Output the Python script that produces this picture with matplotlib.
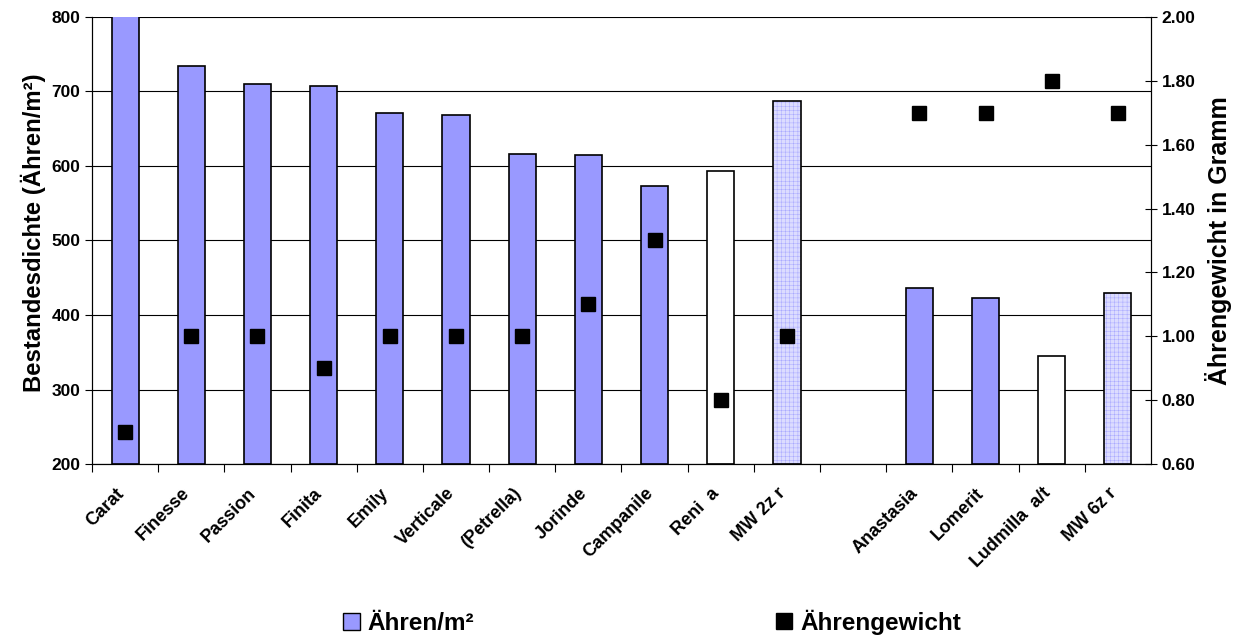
import numpy as np
import matplotlib
matplotlib.use("Agg")
import matplotlib.pyplot as plt
import matplotlib.transforms as mtransforms
from matplotlib.patches import Patch
from matplotlib.lines import Line2D

plt.rcParams["font.family"] = ["Liberation Sans", "DejaVu Sans"]
plt.rcParams["font.weight"] = "bold"
plt.rcParams["hatch.linewidth"] = 0.3

# slot 11 is an empty gap between the two groups
SORTEN = ["Carat", "Finesse", "Passion", "Finita", "Emily", "Verticale",
          "(Petrella)", "Jorinde", "Campanile", "Reni  a", "MW 2z r", "",
          "Anastasia", "Lomerit", "Ludmilla  a/t", "MW 6z r"]
AEHREN_M2 = [830, 734, 710, 707, 671, 668, 616, 615, 573, 593, 687, np.nan,
             436, 423, 345, 430]
AEHRENGEWICHT = [0.70, 1.00, 1.00, 0.90, 1.00, 1.00, 1.00, 1.10, 1.30, 0.80,
                 1.00, np.nan, 1.70, 1.70, 1.80, 1.70]
# bar style: n = normal, w = white, m = mean (hatched)
ART = ["n", "n", "n", "n", "n", "n", "n", "n", "n", "w", "m", "",
       "n", "n", "w", "m"]

BLUE = "#9999ff"


def main():
    fig = plt.figure(figsize=(12.42, 6.38), dpi=100)
    ax = fig.add_axes([0.0741, 0.2727, 0.8526, 0.7007])
    x = np.arange(len(SORTEN))

    for xi, val, art in zip(x, AEHREN_M2, ART):
        if np.isnan(val):
            continue
        if art == "n":
            ax.bar(xi, val - 200, bottom=200, width=0.41, color=BLUE,
                   edgecolor="black", linewidth=1.2, zorder=2)
        elif art == "w":
            ax.bar(xi, val - 200, bottom=200, width=0.41, color="white",
                   edgecolor="black", linewidth=1.2, zorder=2)
        else:
            ax.bar(xi, val - 200, bottom=200, width=0.41, color="#dcdcff",
                   edgecolor="#a0a0ff", hatch="++++", linewidth=0, zorder=2)
            ax.bar(xi, val - 200, bottom=200, width=0.41, fill=False,
                   edgecolor="black", linewidth=1.2, zorder=3)

    ax.set_xlim(-0.5, len(SORTEN) - 0.5)
    ax.set_ylim(200, 800)
    ax.set_yticks(range(200, 801, 100))
    ax.yaxis.grid(True, color="black", linewidth=0.8)
    ax.set_axisbelow(True)
    ax.set_xticks(x - 0.5, minor=False)
    ax.set_xticklabels([])
    ax.set_xticks(x, minor=True)
    ax.set_xticklabels(SORTEN, minor=True, rotation=45, ha="right",
                       rotation_mode="anchor", fontsize=13, fontweight="bold")
    ax.tick_params(axis="x", which="minor", length=0, pad=15)
    ax.tick_params(axis="x", which="major", length=6, direction="out")
    shift = mtransforms.ScaledTranslation(-10 / 100, 0, fig.dpi_scale_trans)
    for lab in ax.get_xticklabels(minor=True):
        lab.set_transform(lab.get_transform() + shift)
    ax.tick_params(axis="y", labelsize=12.5, length=5)
    for lab in ax.get_yticklabels():
        lab.set_fontweight("bold")
    ax.spines["top"].set_visible(False)
    ax.set_ylabel("Bestandesdichte (Ähren/m²)", fontsize=17.2,
                  fontweight="bold")
    ax.yaxis.set_label_coords(-0.043, 0.517)

    ax2 = ax.twinx()
    ax2.plot(x, AEHRENGEWICHT, "s", color="black", markersize=10.5, zorder=4)
    ax2.set_ylim(0.6, 2.0)
    ax2.set_yticks(np.arange(0.6, 2.01, 0.2))
    ax2.set_yticklabels([f"{v:.2f}" for v in np.arange(0.6, 2.01, 0.2)],
                        fontsize=12.5, fontweight="bold")
    ax2.tick_params(axis="y", direction="inout", length=8)
    ax2.spines["top"].set_visible(False)
    ax2.set_ylabel("Ährengewicht in Gramm", fontsize=18, fontweight="bold",
                   labelpad=7)

    handles = [Patch(facecolor=BLUE, edgecolor="black", linewidth=1),
               Line2D([], [], marker="s", color="black", linestyle="none",
                      markersize=11)]
    fig.legend(handles, ["Ähren/m²", "Ährengewicht"], loc="center",
               bbox_to_anchor=(0.525, 0.025), ncol=2, frameon=False,
               columnspacing=12.4, handlelength=0.7, handletextpad=0.3,
               prop={"size": 17.5, "weight": "bold"})

    fig.savefig("out.png", dpi=100)


if __name__ == "__main__":
    main()
